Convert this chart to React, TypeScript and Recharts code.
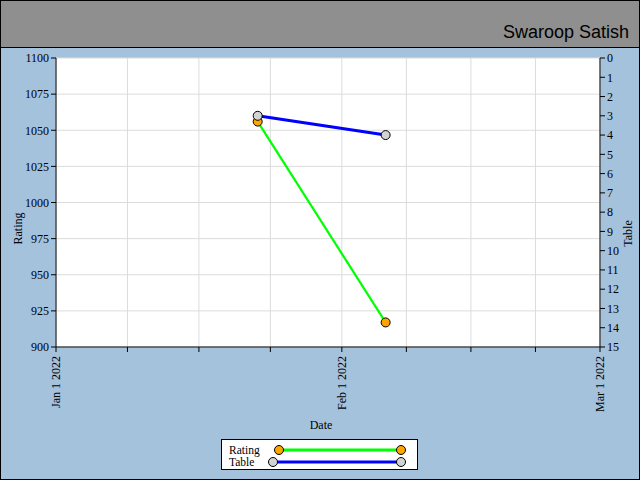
import React from 'react';
import { LineChart, Line, XAxis, YAxis, CartesianGrid, Legend, Label } from 'recharts';

const title = 'Swaroop Satish';
const dates = ['2022-01-22T21:00:00Z', '2022-02-05T18:00:00Z'];
const ratingValues = [1056, 917];
const tableValues = [3, 4];
const xTickDates = [
  '2022-01-01T00:00:00Z', '2022-01-08T18:00:00Z', '2022-01-16T12:00:00Z', '2022-01-24T06:00:00Z',
  '2022-02-01T00:00:00Z', '2022-02-08T00:00:00Z', '2022-02-15T00:00:00Z', '2022-02-22T00:00:00Z',
  '2022-03-01T00:00:00Z',
];
const xDomain = ['2022-01-01T00:00:00Z', '2022-03-01T00:00:00Z'];
const ratingTicks = [900, 925, 950, 975, 1000, 1025, 1050, 1075, 1100];
const tableTicks = [0, 1, 2, 3, 4, 5, 6, 7, 8, 9, 10, 11, 12, 13, 14, 15];
const monthNames = ['Jan', 'Feb', 'Mar', 'Apr', 'May', 'Jun', 'Jul', 'Aug', 'Sep', 'Oct', 'Nov', 'Dec'];

const data = dates.map((d, i) => ({ t: Date.parse(d), rating: ratingValues[i], table: tableValues[i] }));
const xTicks = xTickDates.map((d) => Date.parse(d));

const FONT = "'Liberation Serif', 'DejaVu Serif', serif";
const BG = '#a5c2dc';
const dotFill: Record<string, string> = { Rating: '#ffa500', Table: '#d3d3d3' };

const fmtDate = (v: number) => {
  const d = new Date(v);
  if (d.getUTCDate() === 1 && d.getUTCHours() === 0) {
    return `${monthNames[d.getUTCMonth()]} 1 ${d.getUTCFullYear()}`;
  }
  return '';
};

const XTick = (props: any) => {
  const { x, y, payload } = props;
  const label = fmtDate(payload.value);
  if (!label) return null;
  const yy = y + 2;
  return (
    <text x={x} y={yy} transform={`rotate(-90 ${x} ${yy})`} textAnchor="end" dy="0.35em"
      fontFamily={FONT} fontSize={12} fill="#000">{label}</text>
  );
};

const renderLegend = (props: any) => {
  const { payload } = props;
  return (
    <svg width={198} height={32} style={{ display: 'block' }}>
      <rect x={0.5} y={0.5} width={196} height={30} fill="#fff" stroke="#000" />
      {(payload || []).map((p: any, i: number) => {
        const name = String(p.value);
        const cy = 11 + i * 12;
        const x0 = 8 + name.length * 6 + 14;
        const x1 = 180;
        return (
          <g key={name}>
            <text x={8} y={cy + 4} fontFamily={FONT} fontSize={11.5} fill="#000">{name}</text>
            <line x1={x0} y1={cy} x2={x1} y2={cy} stroke={p.color} strokeWidth={3} />
            <circle cx={x0} cy={cy} r={4.5} fill={dotFill[name]} stroke="#000" />
            <circle cx={x1} cy={cy} r={4.5} fill={dotFill[name]} stroke="#000" />
          </g>
        );
      })}
    </svg>
  );
};

export default function App() {
  return (
    <div style={{ position: 'absolute', left: 0, top: 0, width: 640, height: 480, background: BG, overflow: 'hidden' }}>
      <svg width={640} height={48} style={{ position: 'absolute', left: 0, top: 0 }}>
        <rect x={0} y={0} width={640} height={48} fill="#8f8f8f" />
        <line x1={0} y1={47.5} x2={640} y2={47.5} stroke="#000" />
        <text x={629} y={38} textAnchor="end" fontFamily="'Liberation Sans', sans-serif"
          fontSize={18} fill="#000">{title}</text>
      </svg>
      <div style={{ position: 'absolute', left: 0, top: 0 }}>
        <LineChart width={640} height={480} data={data} margin={{ top: 58, right: 0, bottom: 0, left: 0 }}>
          <CartesianGrid yAxisId="left" stroke="#dcdcdc" fill="#ffffff" strokeDasharray="" />
          <XAxis dataKey="t" type="number" scale="time" domain={xDomain.map((d) => Date.parse(d))}
            ticks={xTicks} interval={0} height={133} tick={<XTick />} tickSize={5}
            axisLine={{ stroke: '#000' }} tickLine={{ stroke: '#000' }} allowDataOverflow>
            <Label content={(p: any) => {
              const vb = p.viewBox || { x: 56, y: 347, width: 544 };
              return <text x={vb.x + vb.width / 2 - 7} y={vb.y + 82} textAnchor="middle" fontFamily={FONT} fontSize={12} fill="#000">Date</text>;
            }} />
          </XAxis>
          <YAxis yAxisId="left" orientation="left" width={56} domain={[900, 1100]} ticks={ratingTicks} interval={0}
            tickSize={5} axisLine={{ stroke: '#000' }} tickLine={{ stroke: '#000' }}
            tick={{ fill: '#000', fontSize: 12, fontFamily: FONT }} allowDataOverflow>
            <Label content={(p: any) => {
              const vb = p.viewBox || { x: 0, y: 58, width: 56, height: 289 };
              const cx = vb.x + 18;
              const cy = vb.y + vb.height / 2 + 26;
              return <text x={cx} y={cy} transform={`rotate(-90 ${cx} ${cy})`} textAnchor="middle" dy="0.35em" fontFamily={FONT} fontSize={12} fill="#000">Rating</text>;
            }} />
          </YAxis>
          <YAxis yAxisId="right" orientation="right" width={40} domain={[0, 15]} ticks={tableTicks} interval={0} reversed
            tickSize={5} axisLine={{ stroke: '#000' }} tickLine={{ stroke: '#000' }}
            tick={{ fill: '#000', fontSize: 12, fontFamily: FONT }} allowDataOverflow>
            <Label content={(p: any) => {
              const vb = p.viewBox || { x: 600, y: 58, width: 40, height: 289 };
              const cx = vb.x + 28;
              const cy = vb.y + vb.height / 2 + 31;
              return <text x={cx} y={cy} transform={`rotate(-90 ${cx} ${cy})`} textAnchor="middle" dy="0.35em" fontFamily={FONT} fontSize={12} fill="#000">Table</text>;
            }} />
          </YAxis>
          <Legend content={renderLegend} layout="horizontal" verticalAlign="middle" align="center"
            wrapperStyle={{ position: 'absolute', left: 221, top: 439, width: 198, height: 32 }} />
          <Line yAxisId="left" type="linear" dataKey="rating" name="Rating" stroke="#00ff00" strokeWidth={2.2}
            dot={{ r: 4.5, fill: '#ffa500', stroke: '#000', strokeWidth: 1 }} activeDot={false} isAnimationActive={false} />
          <Line yAxisId="right" type="linear" dataKey="table" name="Table" stroke="#0000ff" strokeWidth={3}
            dot={{ r: 4.5, fill: '#d3d3d3', stroke: '#000', strokeWidth: 1 }} activeDot={false} isAnimationActive={false} />
        </LineChart>
      </div>
      <div style={{ position: 'absolute', left: 0, top: 0, width: 640, height: 480, boxSizing: 'border-box', border: '1px solid #000', pointerEvents: 'none' }} />
    </div>
  );
}
